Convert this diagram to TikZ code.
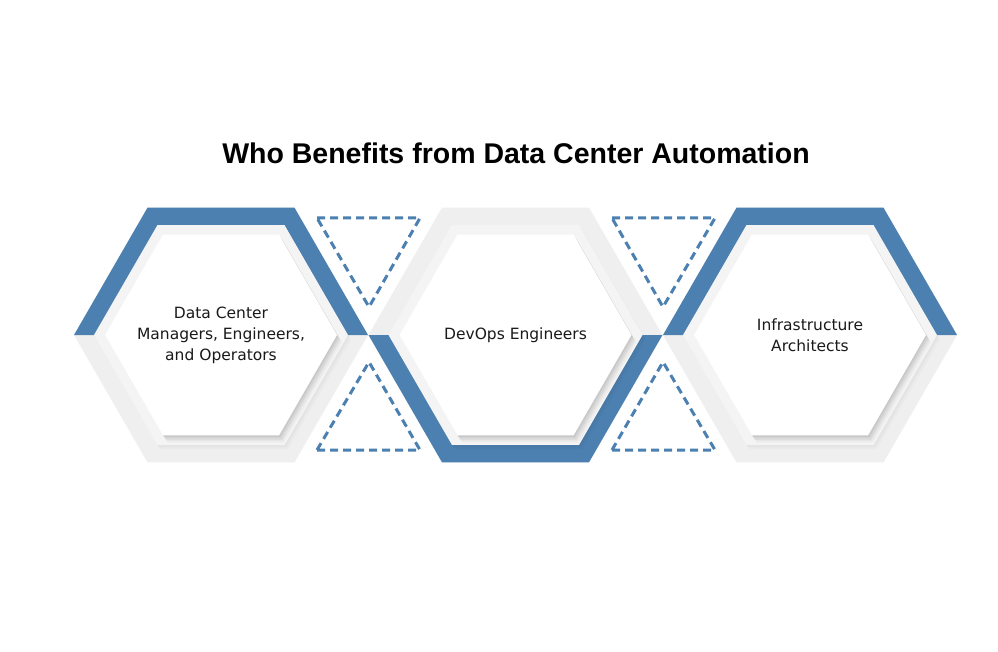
\documentclass[tikz,border=0pt]{standalone}
\usepackage{fontspec}
\setmainfont{Liberation Sans}
\newfontfamily\labelfont{DejaVu Sans}
\definecolor{hexblue}{HTML}{4C80B0}
\definecolor{outergray}{HTML}{EFEFEF}
\definecolor{ringgray}{HTML}{F4F4F4}
\definecolor{txt}{HTML}{1A1A1A}
\newcommand{\hexfull}[4]{\path[#4,shift={(#1,#2)}] (0:#3) -- (60:#3) -- (120:#3) -- (180:#3) -- (240:#3) -- (300:#3) -- cycle;}
\newcommand{\hextop}[4]{\path[#4,shift={(#1,#2)}] (0:#3) -- (-60:#3) -- (-120:#3) -- (180:#3) -- cycle;}
\newcommand{\hexbot}[4]{\path[#4,shift={(#1,#2)}] (0:#3) -- (60:#3) -- (120:#3) -- (180:#3) -- cycle;}
\newcommand{\hexunit}[3]{% cx, cy, 1=top blue / 0=bottom blue
  \hexfull{#1}{#2}{147}{fill=outergray}
  \ifnum#3=1 \hextop{#1}{#2}{147}{fill=hexblue}\else\hexbot{#1}{#2}{147}{fill=hexblue}\fi
  \hexfull{#1+1.5}{#2+2.5}{127}{fill=black,opacity=0.025}
  \hexfull{#1+3}{#2+4.5}{127}{fill=black,opacity=0.02}
  \hexfull{#1}{#2}{127}{fill=ringgray}
  \hexfull{#1+1}{#2+1.5}{116}{fill=black,opacity=0.05}
  \hexfull{#1+2}{#2+3}{116}{fill=black,opacity=0.045}
  \hexfull{#1+3}{#2+4.5}{116}{fill=black,opacity=0.04}
  \hexfull{#1+4}{#2+6}{116}{fill=black,opacity=0.03}
  \hexfull{#1+5}{#2+7.5}{116}{fill=black,opacity=0.02}
  \hexfull{#1}{#2}{116}{fill=white}
}
\tikzset{
  dashtri/.style={draw=hexblue, line width=3pt, dash pattern=on 8pt off 5pt},
  hextext/.style={align=center, text=txt, font=\labelfont\fontsize{15.5}{21}\selectfont},
  titletext/.style={text=black, font=\fontsize{28.5}{32}\selectfont\bfseries}
}
\begin{document}
\begin{tikzpicture}[x=1pt,y=-1pt]
\useasboundingbox[fill=white] (0,0) rectangle (998,652);
\node[titletext] (title) at (516,153) {Who Benefits from Data Center Automation};
% dashed triangles
\draw[dashtri] (317,218) -- (420,218) -- (369,307) -- cycle;
\draw[dashtri] (317,450) -- (420,450) -- (369,362) -- cycle;
\draw[dashtri] (612,218) -- (715,218) -- (663,307) -- cycle;
\draw[dashtri] (612,450) -- (715,450) -- (663,362) -- cycle;
% hexagons
\hexunit{221}{335}{1}
\hexunit{515.5}{335}{0}
\hexunit{810}{335}{1}
\node[hextext] (h1) at (221,335) {Data Center\\Managers, Engineers,\\and Operators};
\node[hextext] (h2) at (515.5,335) {DevOps Engineers};
\node[hextext] (h3) at (810,335) {Infrastructure\\Architects};
\end{tikzpicture}
\end{document}
